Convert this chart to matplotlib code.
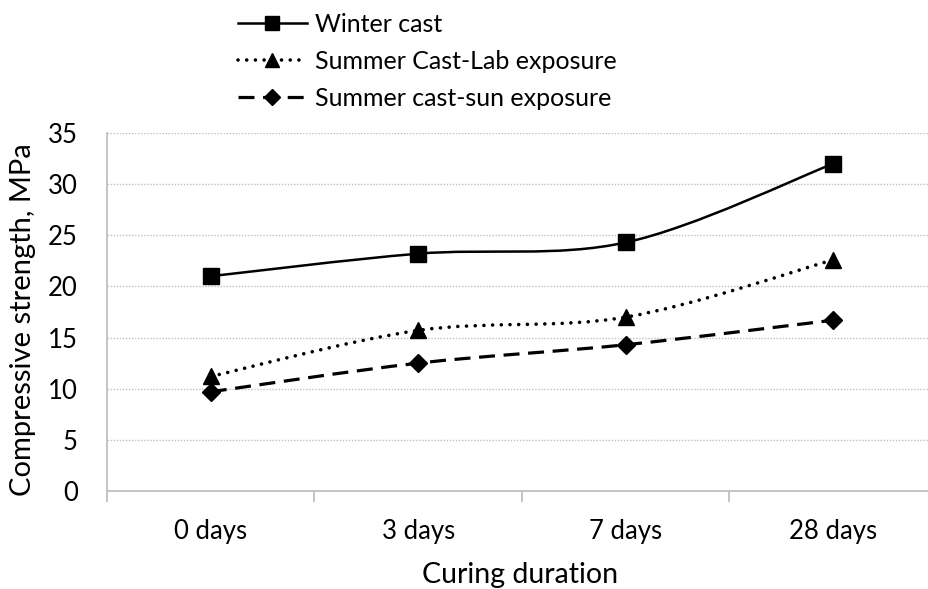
import numpy as np
import matplotlib
matplotlib.use("Agg")
import matplotlib.pyplot as plt
from matplotlib.path import Path
from matplotlib.patches import PathPatch
from matplotlib.lines import Line2D

categories = ["0 days", "3 days", "7 days", "28 days"]
winter_cast = [21.0, 23.2, 24.3, 32.0]
summer_lab = [11.2, 15.7, 17.0, 22.6]
summer_sun = [9.7, 12.5, 14.3, 16.7]
series_names = ["Winter cast", "Summer Cast-Lab exposure", "Summer cast-sun exposure"]
y_ticks = [0, 5, 10, 15, 20, 25, 30, 35]

plt.rcParams['font.family'] = ['Lato', 'DejaVu Sans']

fig = plt.figure(figsize=(9.29, 5.89), dpi=100)
ax = fig.add_axes([107/929, 98/589, 830/929, 358/589])

x = np.arange(len(categories))


def smooth_path(xs, ys):
    pts = np.column_stack([xs, ys]).astype(float)
    n = len(pts)
    verts = [pts[0]]
    codes = [Path.MOVETO]
    for i in range(n - 1):
        p0 = pts[i - 1] if i > 0 else pts[i]
        p1 = pts[i]
        p2 = pts[i + 1]
        p3 = pts[i + 2] if i + 2 < n else pts[i + 1]
        c1 = p1 + (p2 - p0) / 6.0
        c2 = p2 - (p3 - p1) / 6.0
        verts += [c1, c2, p2]
        codes += [Path.CURVE4] * 3
    return Path(verts, codes)


styles = [
    dict(ls='-', marker='s', ms=11, capstyle='butt', lw=1.8),
    dict(ls=(0, (0.01, 2.4)), marker='^', ms=11.5, capstyle='round', lw=2.6),
    dict(ls=(0, (5, 2.7)), marker='D', ms=9, capstyle='butt', lw=2.3),
]
data = [winter_cast, summer_lab, summer_sun]

handles = []
for vals, st, name in zip(data, styles, series_names):
    patch = PathPatch(smooth_path(x, vals), facecolor='none', edgecolor='black',
                      lw=st['lw'], linestyle=st['ls'], capstyle=st['capstyle'], zorder=3)
    ax.add_patch(patch)
    ax.plot(x, vals, linestyle='none', marker=st['marker'], ms=st['ms'],
            color='black', zorder=4)
    h = Line2D([], [], color='black', lw=st['lw'], linestyle=st['ls'],
               marker=st['marker'], ms=st['ms'] * 0.9, dash_capstyle=st['capstyle'])
    handles.append(h)

ax.set_xlim(-0.5, 3.5)
ax.set_ylim(0, 35)
ax.set_yticks(y_ticks)
ax.set_yticklabels([str(t) for t in y_ticks], fontsize=18.5)
ax.tick_params(axis='y', length=0, pad=21)

ax.set_xticks(np.arange(-0.5, 3.6, 1.0))
ax.set_xticklabels([])
ax.set_xticks(x, minor=True)
ax.set_xticklabels(categories, minor=True, fontsize=18.5)
ax.tick_params(axis='x', which='major', length=8, color='#BFBFBF', width=1.3)
ax.tick_params(axis='x', which='minor', length=0, pad=20)

for s in ['top', 'right']:
    ax.spines[s].set_visible(False)
for s in ['left', 'bottom']:
    ax.spines[s].set_color('#BFBFBF')
    ax.spines[s].set_linewidth(1.3)

for t in y_ticks[1:]:
    ax.axhline(t, color='#BFBFBF', lw=1.0, linestyle=(0, (1, 1.2)), zorder=1)

ax.set_xlabel("Curing duration", fontsize=20.5)
ax.set_ylabel("Compressive strength, MPa", fontsize=21)
ax.xaxis.set_label_coords(0.4976, -0.236)
ax.yaxis.set_label_coords(-0.101, 0.478)
ax.xaxis.label.set_va('center')
ax.yaxis.label.set_va('center')

leg = fig.legend(handles, series_names, loc='upper left',
                 bbox_to_anchor=(233/929, 1.0 - 8/589), frameon=False, fontsize=18,
                 handlelength=2.76, handletextpad=0.32, labelspacing=0.55,
                 borderaxespad=0.0, borderpad=0.2)

fig.savefig("out.png", dpi=100)
